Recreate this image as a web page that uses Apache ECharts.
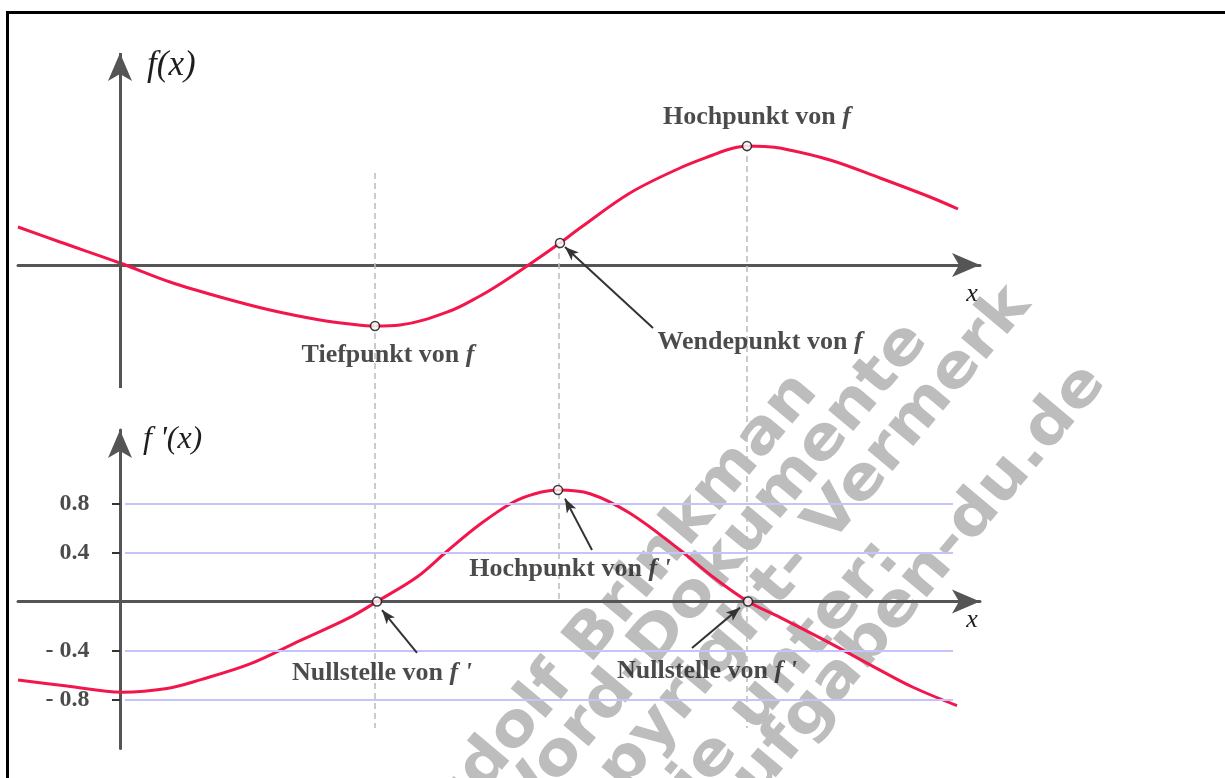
<!DOCTYPE html>
<html>
<head>
<meta charset="utf-8">
<title>f und f'</title>
<script src="https://cdn.jsdelivr.net/npm/echarts@6/dist/echarts.min.js"></script>
<style>
  html, body { margin: 0; padding: 0; background: #fff; }
  #wrap { position: relative; width: 1225px; height: 778px; overflow: hidden; }
  #main { width: 1225px; height: 778px; }
  #frame { position: absolute; left: 6px; top: 11px; right: -5px; bottom: -5px;
           border-left: 3px solid #000; border-top: 3px solid #000; pointer-events: none; }
</style>
</head>
<body>
<div id="wrap">
  <div id="main"></div>
  <div id="frame"></div>
</div>
<script>
// f(x), oberes Bild (Punkte)
const fX = [-1.02, -0.6, 0, 0.5, 1.0, 1.5, 2.0, 2.3, 2.55, 2.8, 3.3, 3.6, 3.8, 4.1, 4.4, 4.6, 5.1, 5.6, 5.93, 6.1, 6.27, 6.45, 6.6, 7.1, 7.6, 8.1, 8.38];
const fY = [0.38, 0.23, 0.02, -0.17, -0.32, -0.45, -0.55, -0.59, -0.61, -0.6, -0.46, -0.31, -0.19, 0.01, 0.22, 0.37, 0.72, 0.97, 1.1, 1.16, 1.19, 1.185, 1.17, 1.05, 0.87, 0.68, 0.56];

// f'(x), unteres Bild
const dfX = [-1.02, -0.53, 0.02, 0.47, 0.8, 1.3, 1.8, 2.3, 2.57, 2.97, 3.27, 3.6, 3.93, 4.15, 4.38, 4.7, 5.1, 5.6, 5.93, 6.28, 6.6, 7.1, 7.6, 7.93, 8.37];
const dfY = [-0.64, -0.69, -0.74, -0.71, -0.64, -0.51, -0.32, -0.13, 0, 0.2, 0.41, 0.63, 0.81, 0.88, 0.91, 0.88, 0.72, 0.42, 0.2, 0, -0.13, -0.34, -0.56, -0.7, -0.85];

// besondere Punkte
const fKeyX = [2.55, 4.4, 6.27];
const fKeyY = [-0.61, 0.22, 1.19];
const dfKeyX = [2.57, 4.38, 6.28];
const dfKeyY = [0, 0.91, 0];

// Beschriftungen
const fNotes = ['Tiefpunkt von ', 'Wendepunkt von ', 'Hochpunkt von '];
const fNoteX = [2.68, 6.4, 6.37];
const fNoteY = [-0.9, -0.77, 1.48];
const dfNotes = ['Nullstelle von ', 'Hochpunkt von ', 'Nullstelle von '];
const dfNoteX = [2.62, 4.5, 5.87];
const dfNoteY = [-0.59, 0.26, -0.57];

// Pfeile von der Beschriftung zum Punkt
const fArrowFrom = [[5.33, -0.63]];
const fArrowTo = [[4.45, 0.18]];
const dfArrowFrom = [[2.97, -0.42], [4.72, 0.42], [5.72, -0.38]];
const dfArrowTo = [[2.62, -0.07], [4.45, 0.84], [6.2, -0.05]];

// gestrichelte Hilfslinien (in Einheiten des oberen Bildes)
const guideX = [2.55, 4.39, 6.27];
const guideTop = [0.92, 0.22, 1.19];
const guideBottom = [-4.63, -3.36, -4.63];

// Gitterlinien / Skala unten
const dfTicks = [-0.8, -0.4, 0.4, 0.8];
const gridFrom = 0.05;
const gridTo = 8.33;

// Wasserzeichen
const wmLines = ['Rudolf Brinkman', 'Word-Dokumente', 'Copyright- Vermerk', 'finden Sie unter:', 'mathe-aufgaben-du.de'];
const wmEnds = [[830, 401], [940, 350], [1043, 314], [912, 567], [1118, 392]];

const axisColor = '#555';
const curveColor = '#f2164b';
const textColor = '#1e1e1e';
const serif = '"Liberation Serif", "Times New Roman", serif';

const chart = echarts.init(document.getElementById('main'));

function zip(a, b) {
  return a.map((v, i) => [v, b[i]]);
}

function noteSeries(xi, notes, nx, ny) {
  return {
    type: 'scatter', xAxisIndex: xi, yAxisIndex: xi,
    symbolSize: 1, itemStyle: { color: 'rgba(0,0,0,0)' }, silent: true, z: 6,
    data: zip(nx, ny),
    label: {
      show: true, position: 'inside',
      formatter: p => '{t|' + notes[p.dataIndex] + '}' + (xi === 1 ? "{f|f '}" : '{f|f}'),
      rich: {
        t: { fontFamily: serif, fontSize: 26, fontWeight: 'bold', color: textColor },
        f: { fontFamily: serif, fontSize: 26, fontStyle: 'italic', fontWeight: 'bold', color: textColor }
      }
    }
  };
}

function arrowLines(from, to) {
  return from.map((p, i) => [{ coord: p }, { coord: to[i] }]);
}

const option = {
  animation: false,
  grid: [
    { left: 18, top: 52, width: 962, height: 696, outerBoundsMode: 'none' },
    { left: 18, top: 430, width: 962, height: 318.5, outerBoundsMode: 'none' }
  ],
  xAxis: [0, 1].map(i => ({
    gridIndex: i, type: 'value', min: -1.02, max: 8.6,
    axisLine: { onZero: true, symbol: ['none', 'arrow'], symbolSize: [18, 28],
                lineStyle: { color: axisColor, width: 3 } },
    axisTick: { show: false }, axisLabel: { show: false }, splitLine: { show: false },
    name: 'x', nameLocation: 'end', nameGap: -8,
    nameTextStyle: { fontFamily: serif, fontStyle: 'italic', fontSize: 26, color: textColor,
                     align: 'center', verticalAlign: 'top', padding: [i === 0 ? 16 : 6, 0, 0, 0] }
  })),
  yAxis: [
    { gridIndex: 0, type: 'value', min: -4.83, max: 2.13,
      axisLine: { show: false }, axisTick: { show: false }, axisLabel: { show: false }, splitLine: { show: false } },
    { gridIndex: 1, type: 'value', min: -1.2, max: 1.4, interval: 0.4,
      axisLine: { onZero: true, symbol: ['none', 'arrow'], symbolSize: [18, 28],
                  lineStyle: { color: axisColor, width: 3 } },
      axisTick: { show: true, customValues: dfTicks, length: 8, lineStyle: { color: '#333', width: 2 } },
      axisLabel: { show: false },
      splitLine: { show: false } }
  ],
  graphic: [
    { type: 'text', left: 147, top: 48, z: 10,
      style: { text: 'f(x)', font: 'italic 35px ' + serif, fill: textColor } },
    { type: 'text', left: 143, top: 424, z: 10,
      style: { text: "f '(x)", font: 'italic 32px ' + serif, fill: textColor } }
  ].concat(wmLines.map((t, i) => ({
    type: 'text', x: wmEnds[i][0], y: wmEnds[i][1], rotation: 50 * Math.PI / 180, z: -10,
    scaleX: 1.1, silent: true,
    style: { text: t, font: 'bold 60px "DejaVu Sans", sans-serif', fill: '#bdbdbd',
             align: 'right', verticalAlign: 'bottom' }
  }))),
  series: [
    // Hilfslinien, y-Achse oben, Pfeil oben
    {
      type: 'line', xAxisIndex: 0, yAxisIndex: 0, data: [], z: 1,
      markLine: {
        silent: true, animation: false, symbol: ['none', 'none'],
        label: { show: false },
        lineStyle: { color: '#bbb', width: 1.5, type: [6, 4] },
        data: guideX.map((x, i) => [{ coord: [x, guideTop[i]] }, { coord: [x, guideBottom[i]] }])
      }
    },
    {
      type: 'line', xAxisIndex: 0, yAxisIndex: 0, data: [], z: 2,
      markLine: {
        silent: true, animation: false, symbol: ['none', 'arrow'], symbolSize: [18, 28],
        label: { show: false },
        lineStyle: { color: axisColor, width: 3, type: 'solid' },
        data: [[{ coord: [0, -1.23] }, { coord: [0, 2.12] }]]
      }
    },
    {
      type: 'line', xAxisIndex: 0, yAxisIndex: 0, data: [], z: 4,
      markLine: {
        silent: true, animation: false, symbol: ['none', 'arrow'], symbolSize: [8, 14],
        label: { show: false },
        lineStyle: { color: '#333', width: 2, type: 'solid' },
        data: arrowLines(fArrowFrom, fArrowTo)
      }
    },
    {
      type: 'line', xAxisIndex: 0, yAxisIndex: 0, data: zip(fX, fY),
      smooth: 0.35, showSymbol: false, silent: true, z: 3,
      lineStyle: { color: curveColor, width: 3 }
    },
    {
      type: 'scatter', xAxisIndex: 0, yAxisIndex: 0, data: zip(fKeyX, fKeyY),
      symbolSize: 9, z: 5, silent: true,
      itemStyle: { color: '#fff', borderColor: '#111', borderWidth: 1.5 }
    },
    noteSeries(0, fNotes, fNoteX, fNoteY),
    // unteres Bild
    {
      type: 'line', xAxisIndex: 1, yAxisIndex: 1, data: [], z: 1,
      markLine: {
        silent: true, animation: false, symbol: ['none', 'none'],
        label: { show: false },
        lineStyle: { color: '#c4c4fb', width: 2, type: 'solid' },
        data: dfTicks.map(v => [{ coord: [gridFrom, v] }, { coord: [gridTo, v] }])
      }
    },
    {
      // Skalenbeschriftung links der f'-Achse
      type: 'scatter', xAxisIndex: 1, yAxisIndex: 1, data: dfTicks.map(v => [0, v]),
      symbolSize: 1, itemStyle: { color: 'rgba(0,0,0,0)' }, silent: true, z: 6,
      label: {
        show: true, position: 'left', distance: 30,
        formatter: p => (p.value[1] < 0 ? '- ' : '') + Math.abs(p.value[1]).toFixed(1),
        fontFamily: serif, fontSize: 24, fontWeight: 'bold', color: textColor
      }
    },
    {
      type: 'line', xAxisIndex: 1, yAxisIndex: 1, data: [], z: 4,
      markLine: {
        silent: true, animation: false, symbol: ['none', 'arrow'], symbolSize: [8, 14],
        label: { show: false },
        lineStyle: { color: '#333', width: 2, type: 'solid' },
        data: arrowLines(dfArrowFrom, dfArrowTo)
      }
    },
    {
      type: 'line', xAxisIndex: 1, yAxisIndex: 1, data: zip(dfX, dfY),
      smooth: 0.35, showSymbol: false, silent: true, z: 3,
      lineStyle: { color: curveColor, width: 3 }
    },
    {
      type: 'scatter', xAxisIndex: 1, yAxisIndex: 1, data: zip(dfKeyX, dfKeyY),
      symbolSize: 9, z: 5, silent: true,
      itemStyle: { color: '#fff', borderColor: '#111', borderWidth: 1.5 }
    },
    noteSeries(1, dfNotes, dfNoteX, dfNoteY)
  ]
};

chart.setOption(option);
</script>
</body>
</html>
